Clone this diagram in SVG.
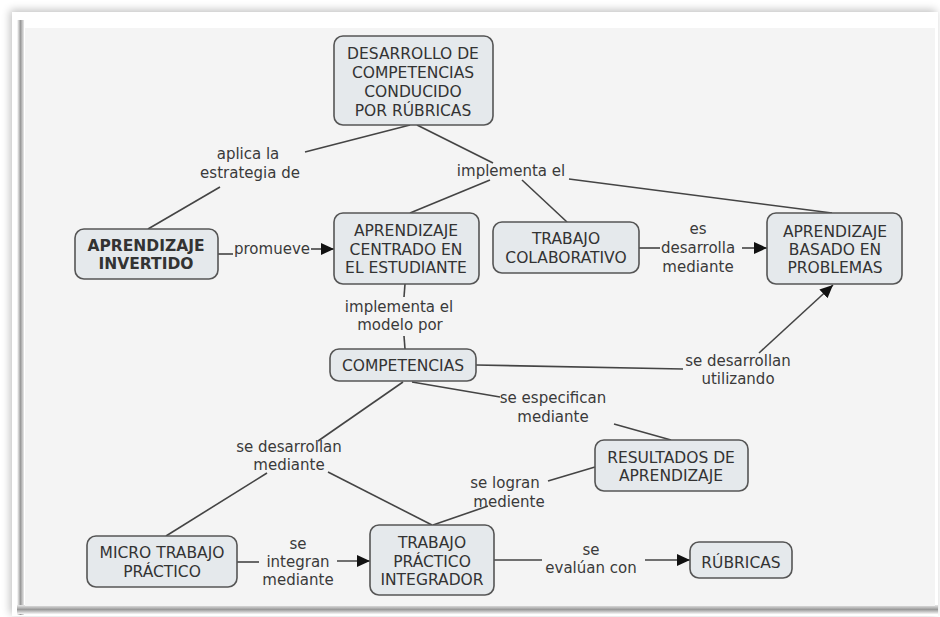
<svg xmlns="http://www.w3.org/2000/svg" width="940" height="617" viewBox="0 0 940 617">
  <defs>
    <style>
      .box { fill: #e5e9ec; stroke: #555; stroke-width: 1.6; }
      .ct { font-family: "DejaVu Sans", Verdana, sans-serif; font-size: 15.5px; fill: #333; text-anchor: middle; }
      .b { font-weight: bold; }
      .lbl { font-family: "DejaVu Sans", Verdana, sans-serif; font-size: 15px; fill: #3a3a3a; text-anchor: middle; }
      .ln { stroke: #444; stroke-width: 1.6; fill: none; }
      .arr { marker-end: url(#head); }
    </style>
    <marker id="head" markerUnits="userSpaceOnUse" markerWidth="14" markerHeight="12" refX="13" refY="6" orient="auto">
      <path d="M0,0 L13,6 L0,12 z" fill="#111"/>
    </marker>
    <filter id="shadow" x="-5%" y="-5%" width="110%" height="110%">
      <feGaussianBlur in="SourceAlpha" stdDeviation="4"/>
      <feOffset dx="-2" dy="-2"/>
      <feComponentTransfer><feFuncA type="linear" slope="0.25"/></feComponentTransfer>
      <feMerge><feMergeNode/><feMergeNode in="SourceGraphic"/></feMerge>
    </filter>
    <linearGradient id="leftEdge" x1="0" y1="0" x2="1" y2="0">
      <stop offset="0" stop-color="#ffffff"/>
      <stop offset="0.5" stop-color="#9a9a9a"/>
      <stop offset="1" stop-color="#e8e8e8"/>
    </linearGradient>
    <linearGradient id="bottomEdge" x1="0" y1="0" x2="0" y2="1">
      <stop offset="0" stop-color="#e8e8e8"/>
      <stop offset="0.5" stop-color="#9a9a9a"/>
      <stop offset="1" stop-color="#f5f5f5"/>
    </linearGradient>
  </defs>

  <!-- page and frame -->
  <rect x="0" y="0" width="940" height="617" fill="#ffffff"/>
  <rect x="12" y="12" width="926" height="604" fill="#ffffff" filter="url(#shadow)"/>
  <rect x="17" y="20" width="7" height="595" fill="url(#leftEdge)"/>
  <rect x="17" y="605" width="921" height="9" fill="url(#bottomEdge)"/>
  <rect x="25" y="28" width="910" height="578" fill="#f4f4f4"/>

  <!-- connectors -->
  <g id="connectors">
    <line class="ln" x1="410" y1="125" x2="305" y2="152"/>
    <line class="ln" x1="220" y1="187" x2="148" y2="229"/>
    <line class="ln" x1="417" y1="125" x2="493" y2="163"/>
    <line class="ln" x1="490" y1="180" x2="410" y2="213"/>
    <line class="ln" x1="522" y1="180" x2="567" y2="222"/>
    <line class="ln" x1="569" y1="179" x2="832" y2="213"/>
    <path class="ln" d="M218,254 L233,254"/>
    <line class="ln arr" x1="311" y1="249" x2="334" y2="249"/>
    <line class="ln" x1="639" y1="248" x2="660" y2="248"/>
    <line class="ln arr" x1="742" y1="248" x2="767" y2="248"/>
    <line class="ln" x1="405" y1="284" x2="404" y2="297"/>
    <line class="ln" x1="404" y1="336" x2="405" y2="349"/>
    <line class="ln" x1="476" y1="365" x2="683" y2="369"/>
    <line class="ln arr" x1="759" y1="353" x2="833" y2="285"/>
    <line class="ln" x1="412" y1="382" x2="500" y2="397"/>
    <line class="ln" x1="614" y1="424" x2="671" y2="440"/>
    <line class="ln" x1="403" y1="382" x2="318" y2="441"/>
    <line class="ln" x1="267" y1="473" x2="166" y2="536"/>
    <line class="ln" x1="328" y1="472" x2="432" y2="525"/>
    <line class="ln" x1="595" y1="467" x2="548" y2="481"/>
    <line class="ln" x1="488" y1="506" x2="433" y2="525"/>
    <line class="ln" x1="237" y1="562" x2="259" y2="562"/>
    <line class="ln arr" x1="337" y1="561" x2="370" y2="561"/>
    <line class="ln" x1="494" y1="560" x2="542" y2="560"/>
    <line class="ln arr" x1="645" y1="560" x2="690" y2="560"/>
  </g>

  <!-- linking phrases -->
  <g id="labels">
    <text class="lbl" x="248" y="159">aplica la</text>
    <text class="lbl" x="250" y="178">estrategia de</text>
    <text class="lbl" x="511" y="176">implementa el</text>
    <text class="lbl" x="272" y="254">promueve</text>
    <text class="lbl" x="698" y="234">es</text>
    <text class="lbl" x="698" y="253">desarrolla</text>
    <text class="lbl" x="698" y="272">mediante</text>
    <text class="lbl" x="399" y="312">implementa el</text>
    <text class="lbl" x="400" y="330">modelo por</text>
    <text class="lbl" x="738" y="366">se desarrollan</text>
    <text class="lbl" x="738" y="384">utilizando</text>
    <text class="lbl" x="553" y="403">se especifican</text>
    <text class="lbl" x="553" y="422">mediante</text>
    <text class="lbl" x="289" y="452">se desarrollan</text>
    <text class="lbl" x="289" y="470">mediante</text>
    <text class="lbl" x="505" y="488">se logran</text>
    <text class="lbl" x="509" y="507">mediente</text>
    <text class="lbl" x="298" y="549">se</text>
    <text class="lbl" x="298" y="567">integran</text>
    <text class="lbl" x="298" y="585">mediante</text>
    <text class="lbl" x="591" y="555">se</text>
    <text class="lbl" x="591" y="573">evalúan con</text>
  </g>

  <!-- concepts -->
  <g id="desarrollo">
    <rect class="box" x="334" y="36" width="159" height="89" rx="9"/>
    <text class="ct" x="413" y="58.5">DESARROLLO DE</text>
    <text class="ct" x="413" y="77.5">COMPETENCIAS</text>
    <text class="ct" x="413" y="96.5">CONDUCIDO</text>
    <text class="ct" x="413" y="115.5">POR RÚBRICAS</text>
  </g>
  <g id="invertido">
    <rect class="box" x="75" y="229" width="143" height="50" rx="9"/>
    <text class="ct b" x="146" y="250.5">APRENDIZAJE</text>
    <text class="ct b" x="146" y="268.5">INVERTIDO</text>
  </g>
  <g id="centrado">
    <rect class="box" x="334" y="213" width="145" height="71" rx="9"/>
    <text class="ct" x="406" y="235.5">APRENDIZAJE</text>
    <text class="ct" x="406" y="254.5">CENTRADO EN</text>
    <text class="ct" x="406" y="272.5">EL ESTUDIANTE</text>
  </g>
  <g id="colaborativo">
    <rect class="box" x="493" y="222" width="146" height="51" rx="9"/>
    <text class="ct" x="566" y="243.5">TRABAJO</text>
    <text class="ct" x="566" y="262.5">COLABORATIVO</text>
  </g>
  <g id="problemas">
    <rect class="box" x="767" y="213" width="135" height="71" rx="9"/>
    <text class="ct" x="835" y="236.5">APRENDIZAJE</text>
    <text class="ct" x="835" y="254.5">BASADO EN</text>
    <text class="ct" x="835" y="272.5">PROBLEMAS</text>
  </g>
  <g id="competencias">
    <rect class="box" x="330" y="349" width="146" height="32" rx="9"/>
    <text class="ct" x="403" y="371">COMPETENCIAS</text>
  </g>
  <g id="resultados">
    <rect class="box" x="595" y="440" width="153" height="51" rx="9"/>
    <text class="ct" x="671" y="462.5">RESULTADOS DE</text>
    <text class="ct" x="671" y="480.5">APRENDIZAJE</text>
  </g>
  <g id="micro">
    <rect class="box" x="87" y="536" width="150" height="51" rx="9"/>
    <text class="ct" x="162" y="557.5">MICRO TRABAJO</text>
    <text class="ct" x="162" y="576.5">PRÁCTICO</text>
  </g>
  <g id="integrador">
    <rect class="box" x="370" y="525" width="124" height="70" rx="9"/>
    <text class="ct" x="432" y="547.5">TRABAJO</text>
    <text class="ct" x="432" y="566.5">PRÁCTICO</text>
    <text class="ct" x="432" y="584.5">INTEGRADOR</text>
  </g>
  <g id="rubricas">
    <rect class="box" x="690" y="542" width="102" height="36" rx="9"/>
    <text class="ct" x="741" y="567.5">RÚBRICAS</text>
  </g>
</svg>
